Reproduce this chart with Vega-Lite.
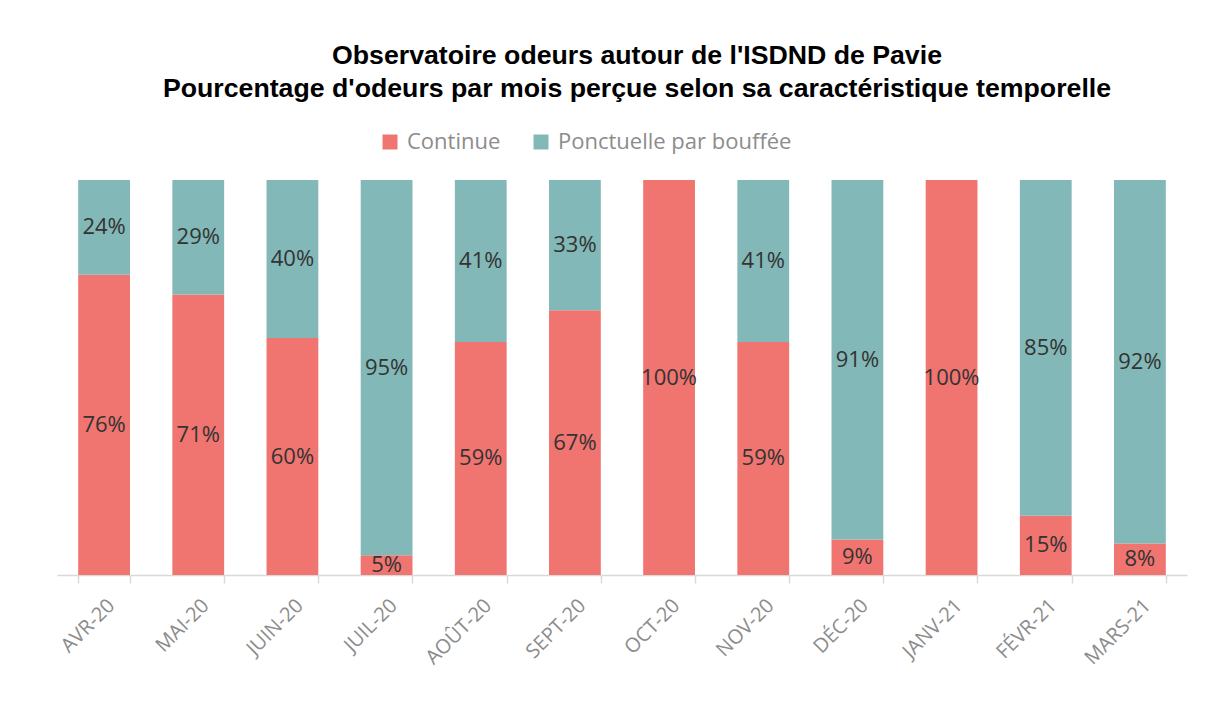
{
  "$schema": "https://vega.github.io/schema/vega-lite/v6.json",
  "width": 1130,
  "height": 395,
  "padding": {"left": 57, "top": 43, "right": 36, "bottom": 5},
  "background": "white",
  "title": {
    "text": ["Observatoire odeurs autour de l'ISDND de Pavie", "Pourcentage d'odeurs par mois perçue selon sa caractéristique temporelle"],
    "font": "Liberation Sans",
    "fontSize": 26.7,
    "fontWeight": "bold",
    "color": "#000000",
    "lineHeight": 33,
    "anchor": "middle",
    "dx": 15,
    "offset": 28
  },
  "data": {
    "values": [
      {"mois": "AVR-20", "type": "Continue", "pct": 0.76},
      {"mois": "AVR-20", "type": "Ponctuelle par bouffée", "pct": 0.24},
      {"mois": "MAI-20", "type": "Continue", "pct": 0.71},
      {"mois": "MAI-20", "type": "Ponctuelle par bouffée", "pct": 0.29},
      {"mois": "JUIN-20", "type": "Continue", "pct": 0.60},
      {"mois": "JUIN-20", "type": "Ponctuelle par bouffée", "pct": 0.40},
      {"mois": "JUIL-20", "type": "Continue", "pct": 0.05},
      {"mois": "JUIL-20", "type": "Ponctuelle par bouffée", "pct": 0.95},
      {"mois": "AOÛT-20", "type": "Continue", "pct": 0.59},
      {"mois": "AOÛT-20", "type": "Ponctuelle par bouffée", "pct": 0.41},
      {"mois": "SEPT-20", "type": "Continue", "pct": 0.67},
      {"mois": "SEPT-20", "type": "Ponctuelle par bouffée", "pct": 0.33},
      {"mois": "OCT-20", "type": "Continue", "pct": 1.00},
      {"mois": "NOV-20", "type": "Continue", "pct": 0.59},
      {"mois": "NOV-20", "type": "Ponctuelle par bouffée", "pct": 0.41},
      {"mois": "DÉC-20", "type": "Continue", "pct": 0.09},
      {"mois": "DÉC-20", "type": "Ponctuelle par bouffée", "pct": 0.91},
      {"mois": "JANV-21", "type": "Continue", "pct": 1.00},
      {"mois": "FÉVR-21", "type": "Continue", "pct": 0.15},
      {"mois": "FÉVR-21", "type": "Ponctuelle par bouffée", "pct": 0.85},
      {"mois": "MARS-21", "type": "Continue", "pct": 0.08},
      {"mois": "MARS-21", "type": "Ponctuelle par bouffée", "pct": 0.92}
    ]
  },
  "encoding": {
    "x": {
      "field": "mois",
      "type": "nominal",
      "sort": null,
      "title": null,
      "scale": {"paddingInner": 0.45, "paddingOuter": 0.225},
      "axis": {
        "labelAngle": -45,
        "labelFont": "Open Sans",
        "labelFontSize": 20,
        "labelColor": "#8c8c8c",
        "labelPadding": 12,
        "labelLimit": 0,
        "domainColor": "#d9d9d9",
        "domainWidth": 1.5,
        "tickColor": "#d9d9d9",
        "tickWidth": 1.5,
        "tickSize": 8,
        "tickBand": "extent"
      }
    }
  },
  "layer": [
    {
      "mark": {"type": "bar"},
      "encoding": {
        "y": {
          "field": "pct",
          "type": "quantitative",
          "stack": "zero",
          "scale": {"domain": [0, 1], "nice": false},
          "axis": null
        },
        "color": {
          "field": "type",
          "type": "nominal",
          "scale": {"domain": ["Continue", "Ponctuelle par bouffée"], "range": ["#F07470", "#82B8B7"]},
          "legend": {
            "title": null,
            "orient": "none",
            "direction": "horizontal",
            "legendX": 322,
            "legendY": -49,
            "padding": 0,
            "symbolType": "square",
            "symbolSize": 225,
            "symbolStrokeWidth": 0,
            "symbolOpacity": 1,
            "labelFont": "Open Sans",
            "labelFontSize": 22,
            "labelColor": "#8c8c8c",
            "labelOffset": 6,
            "labelLimit": 0,
            "columnPadding": 29
          }
        },
        "order": {"field": "type", "sort": "ascending"}
      }
    },
    {
      "transform": [
        {"stack": "pct", "groupby": ["mois"], "sort": [{"field": "type", "order": "ascending"}], "as": ["y0", "y1"]},
        {"calculate": "(datum.y0 + datum.y1) / 2", "as": "ymid"}
      ],
      "mark": {"type": "text", "font": "Open Sans", "fontSize": 22, "color": "#333333", "baseline": "middle"},
      "encoding": {
        "y": {"field": "ymid", "type": "quantitative", "scale": {"domain": [0, 1], "nice": false}},
        "text": {"field": "pct", "type": "quantitative", "format": ".0%"}
      }
    }
  ],
  "config": {
    "view": {"stroke": null}
  }
}
